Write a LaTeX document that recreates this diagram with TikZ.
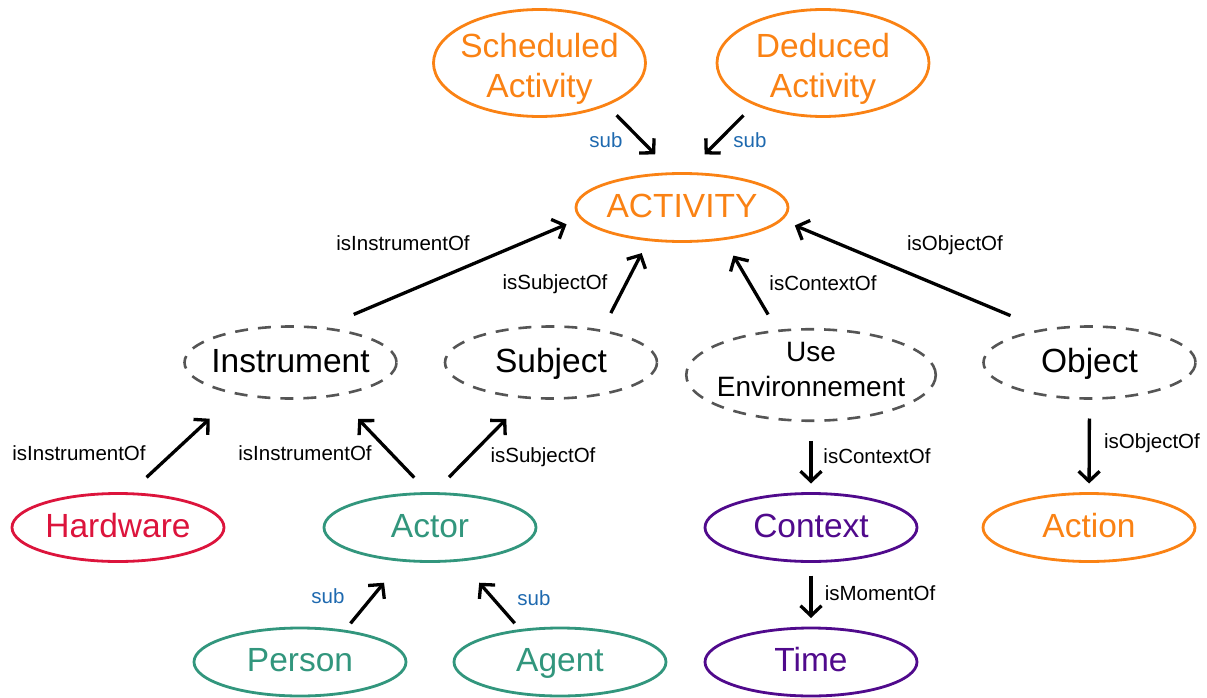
\documentclass[tikz,border=0pt]{standalone}
\usepackage{fontspec}
\setmainfont{Liberation Sans}
\usetikzlibrary{arrows.meta,shapes.geometric}

\definecolor{actorange}{RGB}{250,130,20}
\definecolor{hwred}{RGB}{220,20,60}
\definecolor{actteal}{RGB}{50,150,125}
\definecolor{ctxpurple}{RGB}{80,10,140}
\definecolor{subblue}{RGB}{30,105,175}
\definecolor{dashgray}{RGB}{85,85,85}

\begin{document}
\begin{tikzpicture}
            [x=1pt,y=1pt,
             oval/.style={ellipse,draw,line width=2.8pt,inner sep=-40pt,outer sep=0pt,
               minimum width=212pt,minimum height=68pt,font=\fontsize{33.5}{40}\selectfont},
             oneline/.style={text height=24pt,text depth=5pt},
             ghost/.style={oval,draw=dashgray,line width=2.6pt,dash pattern=on 13pt off 10pt,minimum height=72pt},
             link/.style={line width=3.3pt,-{Straight Barb[length=10pt,width=21pt]}},
             rel/.style={font=\fontsize{20.5}{24}\selectfont,text height=15pt,text depth=4pt,inner sep=0pt},
             subrel/.style={rel,text=subblue}]
            \useasboundingbox (0,0) rectangle (1207,-698);

            \node[oval,draw=actorange,text=actorange,minimum height=107pt,align=center] (sched) at (539.5,-63) {\rule{0pt}{36pt}Scheduled\\Activity};
            \node[oval,draw=actorange,text=actorange,minimum height=107pt,align=center] (ded) at (823,-63) {\rule{0pt}{36pt}Deduced\\Activity};
            \node[oval,oneline,draw=actorange,text=actorange] (act) at (682,-207.5) {ACTIVITY};

            \node[ghost,oneline] (inst) at (290.5,-362.5) {Instrument};
            \node[ghost,oneline] (subj) at (551,-362.5) {Subject};
            \node[ghost,minimum width=249.5pt,minimum height=91.5pt,align=center,font=\fontsize{28}{35}\selectfont] (env) at (811,-375) {Use\\Environnement\rule[-11pt]{0pt}{11pt}};
            \node[ghost,oneline] (obj) at (1089.5,-362.5) {Object};

            \node[oval,oneline,draw=hwred,text=hwred] (hw) at (118,-527.5) {Hardware};
            \node[oval,oneline,draw=actteal,text=actteal] (actor) at (430,-527.5) {Actor};
            \node[oval,oneline,draw=ctxpurple,text=ctxpurple] (ctx) at (811,-527.5) {Context};
            \node[oval,oneline,draw=actorange,text=actorange] (action) at (1089,-527.5) {Action};

            \node[oval,oneline,draw=actteal,text=actteal] (person) at (300,-662) {Person};
            \node[oval,oneline,draw=actteal,text=actteal] (agent) at (560,-662) {Agent};
            \node[oval,oneline,draw=ctxpurple,text=ctxpurple] (time) at (811,-662) {Time};

            \draw[link,shorten <=15pt,shorten >=27pt] (sched.328) -- (act.103);
            \draw[link,shorten <=16pt,shorten >=27pt] (ded.211) -- (act.84);
            \draw[link,shorten <=35pt,shorten >=16pt] (inst.48) -- (act.186);
            \draw[link,shorten <=20pt,shorten >=15pt] (subj.32) -- (act.224);
            \draw[link,shorten <=19pt,shorten >=19.5pt] (env.127) -- (act.323);
            \draw[link,shorten <=37pt,shorten >=15pt] (obj.144) -- (act.353);
            \draw[link,shorten <=24pt,shorten >=37pt] (hw.72) -- (inst.210);
            \draw[link,shorten <=22pt,shorten >=33pt] (actor.91) -- (inst.324);
            \draw[link,shorten <=23pt,shorten >=30pt] (actor.85) -- (subj.236);
            \draw[link,shorten <=20pt,shorten >=10pt] (env.south) -- (ctx.north);
            \draw[link,shorten <=20pt,shorten >=10pt] (obj.south) -- (action.north);
            \draw[link,shorten <=14pt,shorten >=10pt] (ctx.south) -- (time.north);
            \draw[link,shorten <=10pt,shorten >=29pt] (person.35) -- (actor.230);
            \draw[link,shorten <=9.5pt,shorten >=30pt] (agent.141) -- (actor.312);

            \node[subrel] (s1) at (606,-141.5) {sub};
            \node[subrel] (s2) at (750,-141.5) {sub};
            \node[rel] (r1) at (403,-244.5) {isInstrumentOf};
            \node[rel] (r2) at (555,-283.5) {isSubjectOf};
            \node[rel] (r3) at (823,-285) {isContextOf};
            \node[rel] (r4) at (955,-244.5) {isObjectOf};
            \node[rel] (r5) at (79,-454.5) {isInstrumentOf};
            \node[rel] (r6) at (305,-454.5) {isInstrumentOf};
            \node[rel] (r7) at (543,-456.5) {isSubjectOf};
            \node[rel] (r8) at (877,-457.5) {isContextOf};
            \node[rel] (r9) at (1152,-442.5) {isObjectOf};
            \node[rel] (r10) at (880,-594.5) {isMomentOf};
            \node[subrel] (s3) at (328,-597.5) {sub};
            \node[subrel] (s4) at (534,-599.5) {sub};

        \end{tikzpicture}
\end{document}
